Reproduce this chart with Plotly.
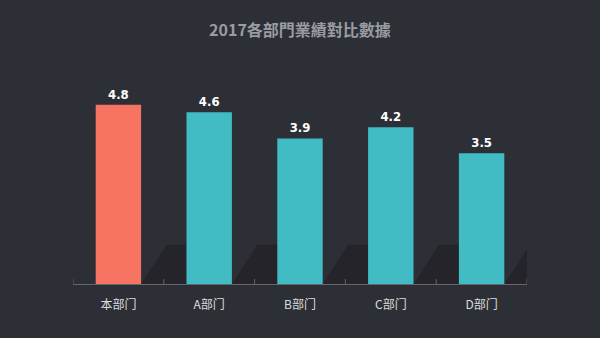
import plotly.graph_objects as go

categories = ["本部门", "A部门", "B部门", "C部门", "D部门"]
values = [4.8, 4.6, 3.9, 4.2, 3.5]
bar_colors = ["#f87462", "#42bcc4", "#42bcc4", "#42bcc4", "#42bcc4"]
title_text = "2017各部門業績對比數據"

BG = "#2d2f36"
AXIS = "#64666d"
fig = go.Figure()
fig.add_trace(go.Bar(
    x=categories, y=values,
    width=0.5,
    marker=dict(color=bar_colors, line=dict(width=0)),
    text=[f"<b>{v:.1f}</b>" for v in values],
    textposition="outside",
    textfont=dict(family="DejaVu Sans Condensed", size=13, color="#ffffff"),
    cliponaxis=False,
    hoverinfo="skip",
))

n = len(categories)
shapes = []
# decorative shadows to the right of each bar
for i in range(n):
    x0 = i + 0.25
    x1 = min(x0 + 0.5, n - 0.5)
    path = f"M {x0},0 L {x0+0.28},1.05 L {x1},1.05 L {x1},0 Z"
    shapes.append(dict(type="path", path=path, xref="x", yref="y",
                       fillcolor="#232429", line=dict(width=0), layer="below", opacity=0.9))
# category boundary ticks (pointing up from the axis line)
for i in range(n + 1):
    b = i - 0.5
    shapes.append(dict(type="line", xref="x", yref="paper", x0=b, x1=b, y0=0, y1=0.022,
                       line=dict(color=AXIS, width=1), layer="above"))

fig.update_layout(
    width=600, height=338,
    paper_bgcolor=BG, plot_bgcolor=BG,
    margin=dict(l=73, r=73, t=60, b=54),
    showlegend=False,
    shapes=shapes,
    title=dict(text=f"<b>{title_text}</b>", x=0.5, xanchor="center", y=0.91, yanchor="middle",
               font=dict(family="Noto Sans CJK TC", size=16, color="#9a9ba3")),
    xaxis=dict(
        type="category",
        range=[-0.5, n - 0.5],
        showline=True, linecolor=AXIS, linewidth=1,
        ticks="", showgrid=False, zeroline=False,
        ticklabelstandoff=10,
        tickfont=dict(family="Noto Sans CJK SC", size=12, color="#dcdcdc"),
    ),
    yaxis=dict(range=[0, 6], visible=False, showgrid=False, zeroline=False),
)

fig.write_html("out.html")
